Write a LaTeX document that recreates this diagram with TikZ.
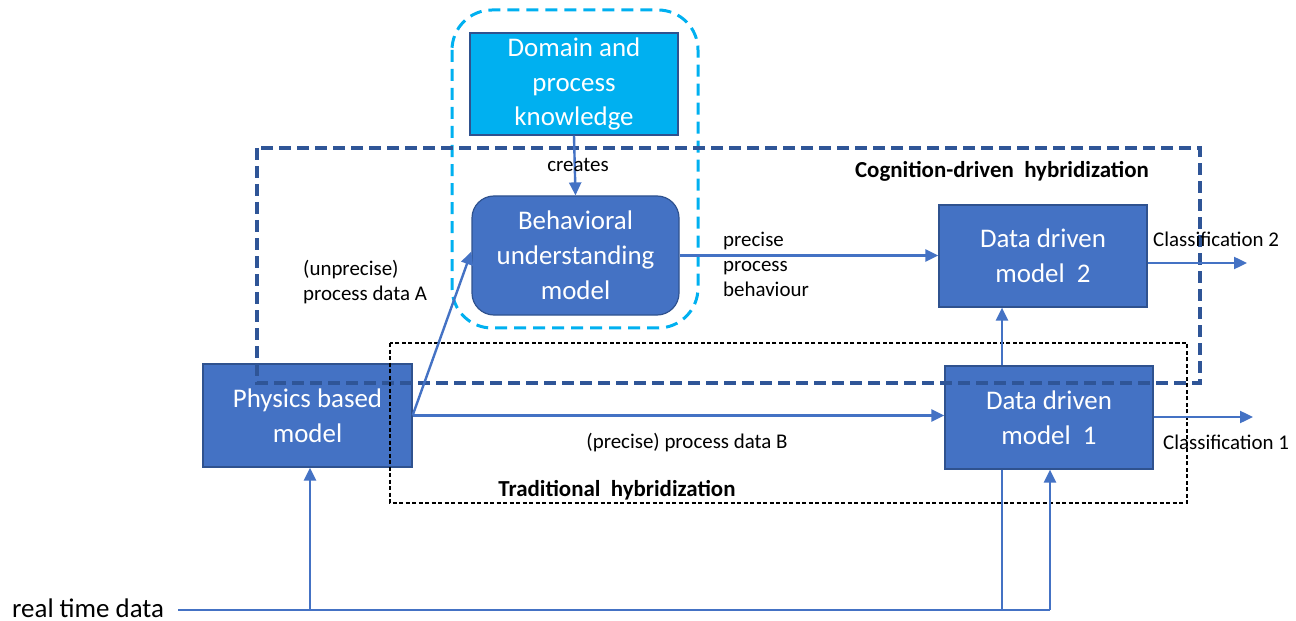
\documentclass[tikz,border=0pt]{standalone}
\usepackage{fontspec}
\setmainfont{Carlito}
\usetikzlibrary{arrows.meta}
\definecolor{boxblue}{HTML}{4472C4}
\definecolor{boxedge}{HTML}{2F528F}
\definecolor{cyanfill}{HTML}{00B0F0}
\definecolor{cogblue}{HTML}{2F5597}
\definecolor{linkblue}{HTML}{4472C4}
\begin{document}
\begin{tikzpicture}[x=1bp,y=-1bp,
  box/.style={draw=boxedge, line width=1.2bp, fill=boxblue, text=white, align=center,
    font=\fontsize{27}{35}\selectfont, inner sep=0pt, minimum width=208bp, minimum height=103bp},
  link/.style={draw=linkblue, line width=2.4bp, -{Triangle[length=13bp,width=12bp]}},
  plainlink/.style={draw=linkblue, line width=2.4bp},
  lbl/.style={font=\fontsize{21}{25}\selectfont, align=left, inner sep=0pt},
  grp/.style={font=\bfseries\fontsize{23}{27}\selectfont, inner sep=0pt}]
\useasboundingbox (0,0) rectangle (1296,621);

% boxes
\node[box, fill=cyanfill, minimum height=102bp] (dom) at (574,84) {Domain and\\process\\knowledge};
\node[box, rounded corners=22bp, minimum width=207bp, minimum height=119bp] (beh) at (575.5,255.5) {Behavioral\\understanding\\model};
\node[box, minimum width=209bp] (phys) at (307.5,415.5) {Physics based\\model};
\node[box, minimum height=102bp] (ddm2) at (1043,256) {Data driven\\model~~2};
\node[box] (ddm1) at (1049,417.5) {Data driven\\model~~1};

% group frames
\draw[cyanfill, line width=3bp, dash pattern=on 12bp off 7bp, rounded corners=40bp] (452,10) rectangle (698,328);
\draw[cogblue, line width=3.6bp, dash pattern=on 12bp off 6bp] (257,148) rectangle (1200,383);
\draw[black, line width=1.5bp, dash pattern=on 4bp off 2.5bp] (390,343) rectangle (1187,503);

\node[grp] (cog) at (1002,171) {Cognition-driven~~hybridization};
\node[grp] (trad) at (617,490) {Traditional~~hybridization};

% coordinates
\coordinate (c2) at (1247,263);
\coordinate (c1) at (1253,417);
\coordinate (colA) at (1002,610);
\coordinate (colB) at (1050,610);
\coordinate (colP) at (310,610);

% real time data
\node[font=\fontsize{27}{32}\selectfont, inner sep=0pt, anchor=west] (rt) at (12,608) {real time data};

% connectors
\draw[link] (dom.south) -- (beh.north);
\draw[link] (phys.east) -- ([yshift=4bp]beh.west);
\draw[link] (phys.east) -- (ddm1.west |- phys.east);
\draw[link] (beh.east) -- (ddm2.west |- beh.east);
\draw[link] (ddm2.east |- c2) -- (c2);
\draw[link] (ddm1.east |- c1) -- (c1);
\draw[link] (ddm1.north -| colA) -- (ddm2.south -| colA);
\draw[plainlink] ([xshift=14bp]rt.east |- colB) -- (colB);
\draw[plainlink] (colA) -- (ddm1.south -| colA);
\draw[link] (colB) -- (ddm1.south -| colB);
\draw[link] (colP) -- (phys.south -| colP);

% labels
\node[lbl] (lcreates) at (578,165) {creates};
\node[lbl, anchor=west] (lA) at (303,282) {(unprecise)\\process data A};
\node[lbl, anchor=west] (lbeh) at (723,264) {precise\\process\\behaviour};
\node[lbl] (lB) at (687,443) {(precise) process data B};
\node[lbl, anchor=west] (lc2) at (1153,239) {Classification 2};
\node[lbl, anchor=west] (lc1) at (1163,442) {Classification 1};
\end{tikzpicture}
\end{document}
